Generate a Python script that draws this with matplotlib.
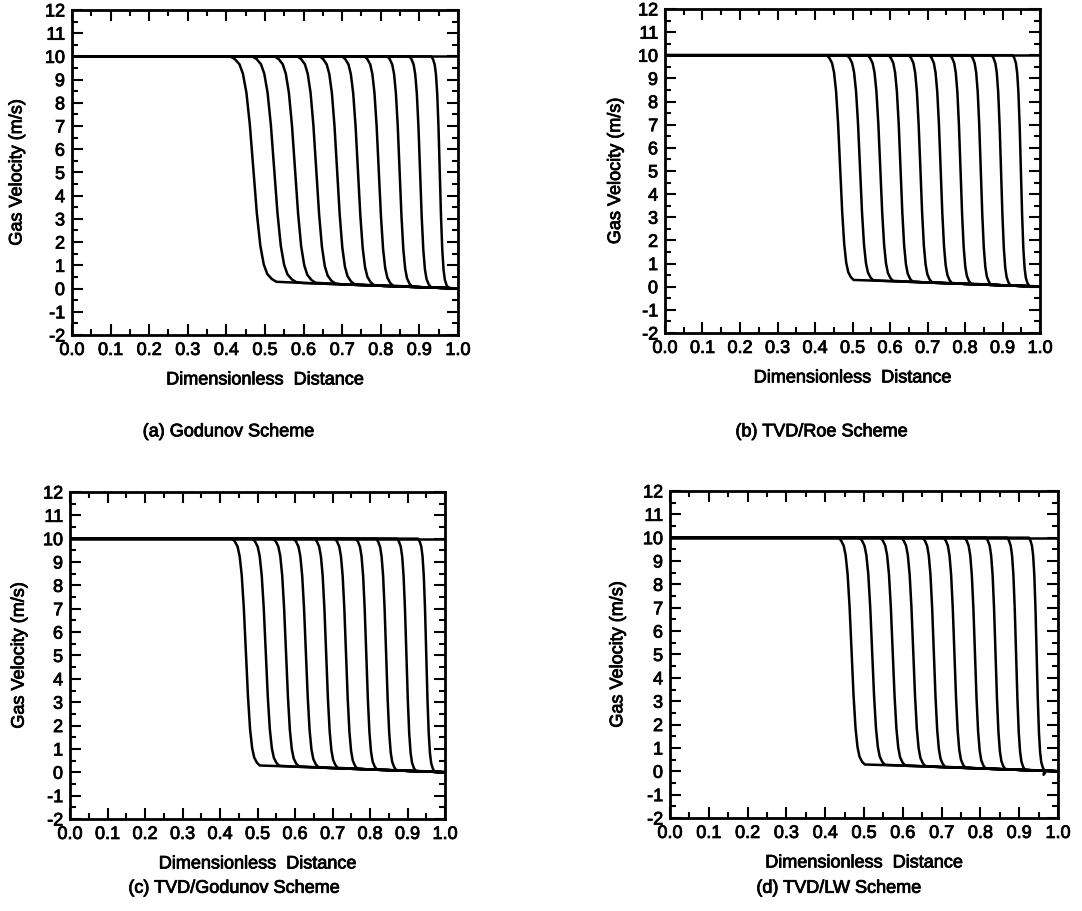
import matplotlib.pyplot as plt
import matplotlib.patheffects as pe
import numpy as np
from matplotlib.ticker import MultipleLocator

plt.rcParams['font.family'] = ['Liberation Sans', 'DejaVu Sans']

# Front positions (x at the steep part) and half-widths of the 10 profiles
godunov_center = [0.470, 0.524, 0.578, 0.633, 0.687, 0.741, 0.795, 0.849, 0.902, 0.953]
godunov_halfw = [0.060, 0.057, 0.053, 0.049, 0.045, 0.041, 0.037, 0.032, 0.028, 0.022]

roe_center = [0.467, 0.520, 0.574, 0.628, 0.681, 0.735, 0.788, 0.842, 0.896, 0.949]
roe_halfw = [0.036, 0.035, 0.034, 0.032, 0.031, 0.030, 0.028, 0.027, 0.025, 0.022]

tvdg_center = [0.469, 0.522, 0.576, 0.629, 0.683, 0.736, 0.790, 0.843, 0.897, 0.950]
tvdg_halfw = [0.037, 0.036, 0.034, 0.033, 0.031, 0.030, 0.028, 0.027, 0.025, 0.022]

lw_center = [0.468, 0.521, 0.574, 0.627, 0.680, 0.733, 0.786, 0.839, 0.892, 0.945]
lw_halfw = [0.034, 0.033, 0.032, 0.031, 0.029, 0.028, 0.027, 0.025, 0.023, 0.020]

# Shape of a front: offset in half-widths -> fraction of the drop remaining
profile_offset = [-1.0, -0.8, -0.6, -0.45, -0.3, -0.15, 0.0, 0.15, 0.3, 0.45, 0.6, 0.8, 1.0]
profile_frac = [1.0, 0.988, 0.965, 0.923, 0.839, 0.695, 0.5, 0.305, 0.161, 0.077, 0.035, 0.012, 0.0]

# Low-velocity tail behind the fronts
tail_x = [0.50, 0.60, 0.70, 0.80, 0.90, 0.97, 1.00]
tail_u = [0.29, 0.24, 0.18, 0.12, 0.06, 0.02, 0.00]

u_high = 10.0
lw_dip = (0.963, -0.15)  # small undershoot on the last LW profile

panels = [
    ('(a) Godunov Scheme', godunov_center, godunov_halfw),
    ('(b) TVD/Roe Scheme', roe_center, roe_halfw),
    ('(c) TVD/Godunov Scheme', tvdg_center, tvdg_halfw),
    ('(d) TVD/LW Scheme', lw_center, lw_halfw),
]

# axes boxes [left, bottom, width, height], caption positions, y-label pads
boxes = [
    [0.0665, 0.6323, 0.3567, 0.3568],
    [0.6146, 0.6345, 0.3466, 0.3557],
    [0.0647, 0.1010, 0.3466, 0.3590],
    [0.6192, 0.1021, 0.3586, 0.3590],
]
captions = [(0.211, 0.526), (0.759, 0.526), (0.216, 0.025), (0.775, 0.025)]
ypads = [14, 10, 11, 12]

heavy = [pe.withStroke(linewidth=0.6, foreground='black')]

fig = plt.figure(figsize=(10.82, 9.11), dpi=100)

for k, ((title, centers, halfw), box, cap, ypad) in enumerate(zip(panels, boxes, captions, ypads)):
    ax = fig.add_axes(box)
    ax.plot([0, 1], [u_high, u_high], color='black', lw=1.8)
    for i, (c, w) in enumerate(zip(centers, halfw)):
        low = np.interp(c, tail_x, tail_u)
        px = [0.0] + [c + o * w for o in profile_offset]
        pu = [u_high] + [low + (u_high - low) * f for f in profile_frac]
        tx = [x for x in tail_x if x > px[-1]]
        tu = [u for x, u in zip(tail_x, tail_u) if x > px[-1]]
        if k == 3 and i == len(centers) - 1:
            tx = [lw_dip[0]] + tx
            tu = [lw_dip[1]] + tu
        ax.plot(px + tx, pu + tu, color='black', lw=1.8, solid_joinstyle='round')

    ax.set_xlim(0, 1)
    ax.set_ylim(-2, 12)
    ax.xaxis.set_major_locator(MultipleLocator(0.1))
    ax.xaxis.set_minor_locator(MultipleLocator(0.05))
    ax.yaxis.set_major_locator(MultipleLocator(1))
    ax.yaxis.set_minor_locator(MultipleLocator(0.5))
    ax.xaxis.set_major_formatter(plt.FuncFormatter(lambda v, p: f'{v:.1f}'))
    ax.yaxis.set_major_formatter(plt.FuncFormatter(lambda v, p: f'{v:.0f}'))
    ax.tick_params(which='both', direction='in', top=True, right=True,
                   width=1.5, labelsize=13, color='black')
    ax.tick_params(which='major', length=8, pad=5)
    ax.tick_params(which='minor', length=4)
    for s in ax.spines.values():
        s.set_linewidth(2)
    for lab in ax.get_xticklabels() + ax.get_yticklabels():
        lab.set_path_effects(heavy)
    ax.set_xlabel('Dimensionless  Distance', fontsize=13, labelpad=9, path_effects=heavy)
    ax.set_ylabel('Gas Velocity (m/s)', fontsize=13, labelpad=ypad, path_effects=heavy)
    fig.text(cap[0], cap[1], title, fontsize=13, ha='center', va='center', path_effects=heavy)

fig.savefig('out.png', dpi=100)
